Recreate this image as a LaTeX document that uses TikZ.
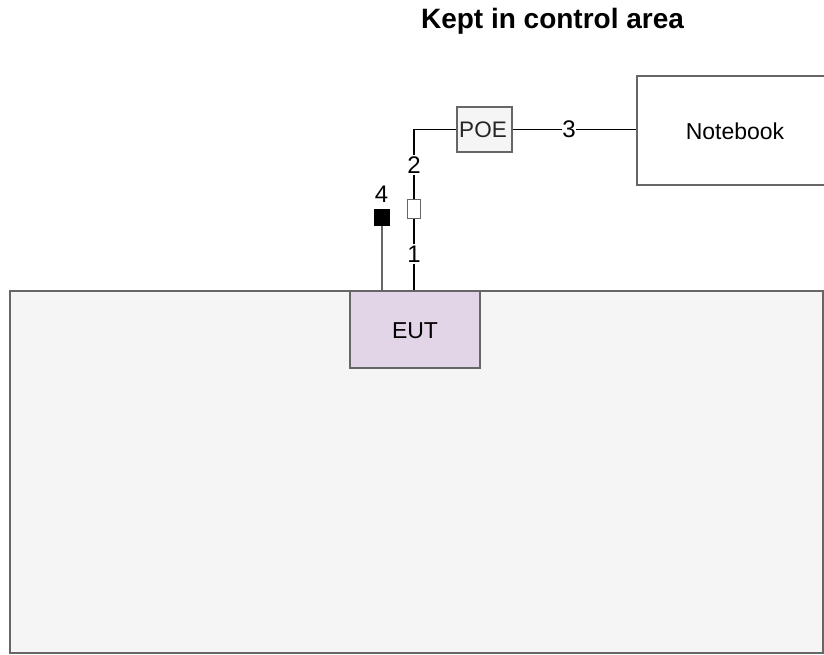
\documentclass[tikz,border=0pt]{standalone}
\usepackage{fontspec}
\setmainfont{Liberation Sans}
\definecolor{boxgray}{HTML}{666666}
\definecolor{eutfill}{HTML}{E1D5E7}
\definecolor{areafill}{HTML}{F5F5F5}
\begin{document}
\begin{tikzpicture}[x=1pt,y=-1pt,
  framebox/.style={draw=boxgray,line width=1.6pt,inner sep=0pt,anchor=north west},
  wire/.style={draw=black,line width=1.1pt},
  txt/.style={font=\fontsize{23}{26}\selectfont,anchor=base,inner sep=0pt},
  lbl/.style={font=\fontsize{24}{26}\selectfont,fill=white,anchor=base,inner sep=1.5pt}]
\useasboundingbox (0,0) rectangle (824,654);
\begin{scope}
\clip (0,0) rectangle (824,654);
\node[framebox,fill=areafill,minimum width=813pt,minimum height=362pt] (area) at (9,290) {};
\node[framebox,fill=white,minimum width=190pt,minimum height=109pt] (nb) at (636,75) {};
\end{scope}
\node[txt] (nbt) at (735,139) {Notebook};
\node[framebox,fill=eutfill,minimum width=130pt,minimum height=77pt] (eut) at (349,290) {};
\node[txt] (eutt) at (415,338) {EUT};
\node[framebox,fill=areafill,minimum width=55pt,minimum height=45pt] (poe) at (456,106) {};
\node[txt,font=\fontsize{22.5}{26}\selectfont,text=black!85] (poet) at (483,137) {POE};
\node[draw=boxgray,line width=1.4pt,fill=white,minimum width=12.5pt,minimum height=19pt,inner sep=0pt] (sq) at (414,209) {};
\node[draw=black,fill=black,minimum width=15pt,minimum height=16pt,inner sep=0pt] (bsq) at (381.5,217.5) {};
\coordinate (c1) at (414,290);
\coordinate (c4) at (381.5,290);
% wires
\draw[wire] (c1) -- (sq.south);
\draw[wire] (sq.north) |- (poe.west);
\draw[wire] (poe.east) -- (nb.west |- poe.east);
\draw[draw=boxgray,line width=2pt] (c4) -- (bsq.south);
% labels
\node[lbl] (l1) at (414,262) {1};
\node[lbl] (l2) at (414,173) {2};
\node[lbl,inner sep=0.5pt] (l3) at (569,137) {3};
\node[lbl,fill=none] (l4) at (381.5,202) {4};
\node[font=\bfseries\fontsize{28}{32}\selectfont,anchor=base,inner sep=0pt] (title) at (552.5,28) {Kept in control area};
\end{tikzpicture}
\end{document}
